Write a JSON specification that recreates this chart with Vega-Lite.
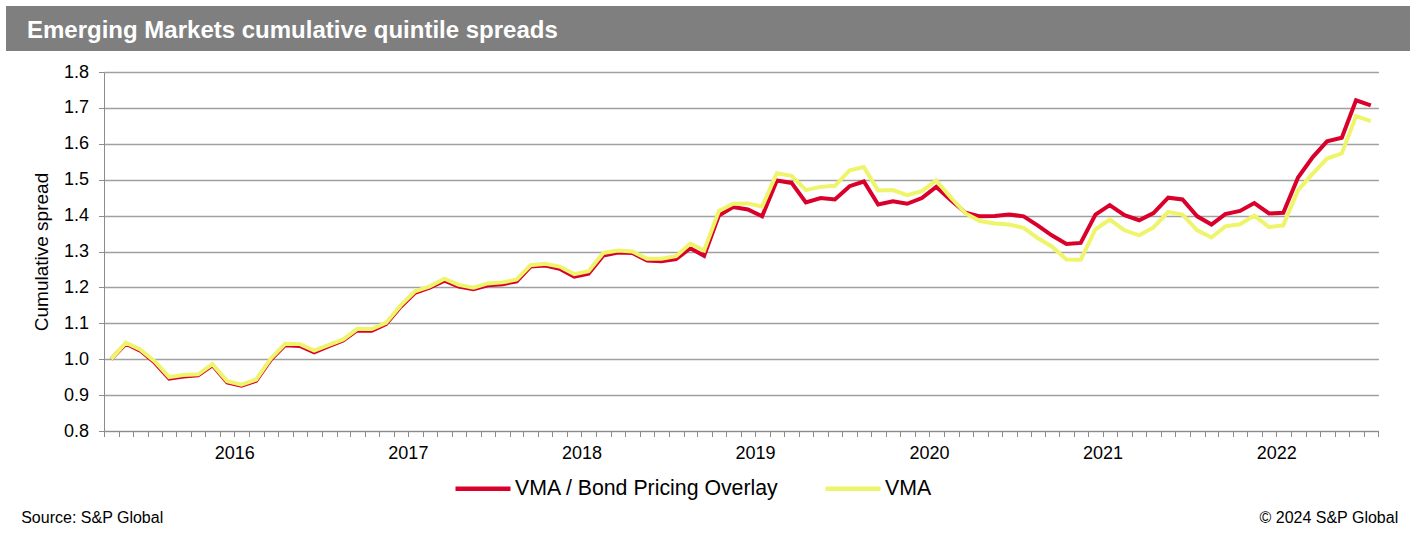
{
  "$schema": "https://vega.github.io/schema/vega-lite/v6.json",
  "padding": {"left": 6, "top": 6, "right": 0, "bottom": 0},
  "background": "white",
  "bounds": "flush",
  "spacing": 21,
  "config": {
    "view": {"stroke": null},
    "font": "Liberation Sans",
    "axis": {"labelFont": "Liberation Sans", "titleFont": "Liberation Sans", "labelColor": "#000000", "titleColor": "#000000"},
    "legend": {"labelFont": "Liberation Sans"},
    "title": {"font": "Liberation Sans"}
  },
  "vconcat": [
    {
      "width": 1404,
      "height": 45,
      "view": {"fill": "#7f7f7f", "stroke": null},
      "title": {
        "text": "Emerging Markets cumulative quintile spreads",
        "orient": "top",
        "anchor": "start",
        "frame": "group",
        "offset": -56,
        "dx": 21,
        "baseline": "alphabetic",
        "color": "#ffffff",
        "fontSize": 24,
        "fontWeight": "bold"
      },
      "data": {"values": [{"t": ""}]},
      "mark": {"type": "text"},
      "encoding": {"text": {"field": "t"}}
    },
    {
      "bounds": "flush",
      "spacing": 0,
      "hconcat": [
        {
          "width": 97.3,
          "height": 359,
          "data": {"values": []},
          "mark": "point",
          "encoding": {}
        },
        {
          "width": 1274.4,
          "height": 359,
          "data": {
            "values": [
              {"date": "2015-10-16", "overlay": 1.000, "vma": 1.000},
              {"date": "2015-11-16", "overlay": 1.043, "vma": 1.046},
              {"date": "2015-12-16", "overlay": 1.024, "vma": 1.027},
              {"date": "2016-01-16", "overlay": 0.990, "vma": 0.994},
              {"date": "2016-02-15", "overlay": 0.946, "vma": 0.950},
              {"date": "2016-03-16", "overlay": 0.952, "vma": 0.956},
              {"date": "2016-04-16", "overlay": 0.955, "vma": 0.958},
              {"date": "2016-05-16", "overlay": 0.983, "vma": 0.986},
              {"date": "2016-06-16", "overlay": 0.935, "vma": 0.939},
              {"date": "2016-07-16", "overlay": 0.926, "vma": 0.929},
              {"date": "2016-08-16", "overlay": 0.940, "vma": 0.943},
              {"date": "2016-09-16", "overlay": 0.999, "vma": 1.002},
              {"date": "2016-10-16", "overlay": 1.039, "vma": 1.043},
              {"date": "2016-11-16", "overlay": 1.037, "vma": 1.042},
              {"date": "2016-12-16", "overlay": 1.019, "vma": 1.024},
              {"date": "2017-01-16", "overlay": 1.036, "vma": 1.040},
              {"date": "2017-02-15", "overlay": 1.052, "vma": 1.055},
              {"date": "2017-03-16", "overlay": 1.080, "vma": 1.084},
              {"date": "2017-04-16", "overlay": 1.079, "vma": 1.084},
              {"date": "2017-05-16", "overlay": 1.098, "vma": 1.101},
              {"date": "2017-06-16", "overlay": 1.146, "vma": 1.150},
              {"date": "2017-07-16", "overlay": 1.185, "vma": 1.189},
              {"date": "2017-08-16", "overlay": 1.199, "vma": 1.203},
              {"date": "2017-09-16", "overlay": 1.219, "vma": 1.224},
              {"date": "2017-10-16", "overlay": 1.202, "vma": 1.207},
              {"date": "2017-11-16", "overlay": 1.195, "vma": 1.199},
              {"date": "2017-12-16", "overlay": 1.206, "vma": 1.211},
              {"date": "2018-01-16", "overlay": 1.209, "vma": 1.214},
              {"date": "2018-02-15", "overlay": 1.217, "vma": 1.222},
              {"date": "2018-03-16", "overlay": 1.258, "vma": 1.262},
              {"date": "2018-04-16", "overlay": 1.261, "vma": 1.266},
              {"date": "2018-05-16", "overlay": 1.252, "vma": 1.258},
              {"date": "2018-06-16", "overlay": 1.230, "vma": 1.237},
              {"date": "2018-07-16", "overlay": 1.238, "vma": 1.245},
              {"date": "2018-08-16", "overlay": 1.289, "vma": 1.296},
              {"date": "2018-09-16", "overlay": 1.297, "vma": 1.303},
              {"date": "2018-10-16", "overlay": 1.296, "vma": 1.300},
              {"date": "2018-11-16", "overlay": 1.275, "vma": 1.280},
              {"date": "2018-12-16", "overlay": 1.273, "vma": 1.280},
              {"date": "2019-01-16", "overlay": 1.279, "vma": 1.287},
              {"date": "2019-02-15", "overlay": 1.309, "vma": 1.322},
              {"date": "2019-03-16", "overlay": 1.288, "vma": 1.303},
              {"date": "2019-04-16", "overlay": 1.400, "vma": 1.413},
              {"date": "2019-05-16", "overlay": 1.424, "vma": 1.433},
              {"date": "2019-06-16", "overlay": 1.417, "vma": 1.434},
              {"date": "2019-07-16", "overlay": 1.398, "vma": 1.425},
              {"date": "2019-08-16", "overlay": 1.498, "vma": 1.518},
              {"date": "2019-09-16", "overlay": 1.491, "vma": 1.511},
              {"date": "2019-10-16", "overlay": 1.437, "vma": 1.471},
              {"date": "2019-11-16", "overlay": 1.449, "vma": 1.480},
              {"date": "2019-12-16", "overlay": 1.445, "vma": 1.483},
              {"date": "2020-01-16", "overlay": 1.482, "vma": 1.526},
              {"date": "2020-02-15", "overlay": 1.495, "vma": 1.535},
              {"date": "2020-03-16", "overlay": 1.431, "vma": 1.470},
              {"date": "2020-04-16", "overlay": 1.440, "vma": 1.471},
              {"date": "2020-05-16", "overlay": 1.433, "vma": 1.457},
              {"date": "2020-06-16", "overlay": 1.449, "vma": 1.468},
              {"date": "2020-07-16", "overlay": 1.480, "vma": 1.498},
              {"date": "2020-08-16", "overlay": 1.443, "vma": 1.450},
              {"date": "2020-09-16", "overlay": 1.408, "vma": 1.406},
              {"date": "2020-10-16", "overlay": 1.398, "vma": 1.385},
              {"date": "2020-11-16", "overlay": 1.399, "vma": 1.378},
              {"date": "2020-12-16", "overlay": 1.403, "vma": 1.375},
              {"date": "2021-01-16", "overlay": 1.398, "vma": 1.366},
              {"date": "2021-02-15", "overlay": 1.372, "vma": 1.337},
              {"date": "2021-03-16", "overlay": 1.345, "vma": 1.314},
              {"date": "2021-04-16", "overlay": 1.321, "vma": 1.278},
              {"date": "2021-05-16", "overlay": 1.324, "vma": 1.277},
              {"date": "2021-06-16", "overlay": 1.403, "vma": 1.362},
              {"date": "2021-07-16", "overlay": 1.429, "vma": 1.389},
              {"date": "2021-08-16", "overlay": 1.401, "vma": 1.359},
              {"date": "2021-09-16", "overlay": 1.387, "vma": 1.345},
              {"date": "2021-10-16", "overlay": 1.407, "vma": 1.367},
              {"date": "2021-11-16", "overlay": 1.450, "vma": 1.410},
              {"date": "2021-12-16", "overlay": 1.445, "vma": 1.403},
              {"date": "2022-01-16", "overlay": 1.398, "vma": 1.359},
              {"date": "2022-02-15", "overlay": 1.375, "vma": 1.339},
              {"date": "2022-03-16", "overlay": 1.404, "vma": 1.370},
              {"date": "2022-04-16", "overlay": 1.413, "vma": 1.376},
              {"date": "2022-05-16", "overlay": 1.435, "vma": 1.400},
              {"date": "2022-06-16", "overlay": 1.406, "vma": 1.368},
              {"date": "2022-07-16", "overlay": 1.408, "vma": 1.373},
              {"date": "2022-08-16", "overlay": 1.506, "vma": 1.471},
              {"date": "2022-09-16", "overlay": 1.563, "vma": 1.517},
              {"date": "2022-10-16", "overlay": 1.607, "vma": 1.559},
              {"date": "2022-11-16", "overlay": 1.617, "vma": 1.573},
              {"date": "2022-12-16", "overlay": 1.721, "vma": 1.677},
              {"date": "2023-01-16", "overlay": 1.707, "vma": 1.663}
            ]
          },
          "resolve": {"axis": {"y": "independent"}},
          "layer": [
            {
              "mark": {"type": "line", "strokeWidth": 4, "strokeJoin": "miter", "clip": false},
              "encoding": {
                "x": {
                  "field": "date",
                  "type": "temporal",
                  "scale": {
                    "type": "utc",
                    "nice": false,
                    "domain": [
                      {"year": 2015, "month": 10, "date": 1, "utc": true},
                      {"year": 2023, "month": 2, "date": 1, "utc": true}
                    ]
                  },
                  "axis": {
                    "tickCount": {"interval": "month", "step": 1},
                    "labelExpr": "utcmonth(datum.value) === 6 ? utcFormat(datum.value, '%Y') : ''",
                    "labelOverlap": false,
                    "labelFlush": false,
                    "labelBound": false,
                    "labelFontSize": 18,
                    "labelPadding": 8,
                    "labelAngle": 0,
                    "grid": false,
                    "ticks": true,
                    "tickSize": 5.5,
                    "tickColor": "#8c8c8c",
                    "tickWidth": 1,
                    "domainColor": "#8c8c8c",
                    "domainWidth": 1,
                    "title": "Source: S&P Global",
                    "titleX": -83.3,
                    "titleY": 91,
                    "titleAlign": "left",
                    "titleBaseline": "alphabetic",
                    "titleFontSize": 16,
                    "titleFontWeight": "normal"
                  }
                },
                "y": {
                  "field": "overlay",
                  "type": "quantitative",
                  "scale": {"domain": [0.8, 1.8], "nice": false, "zero": false},
                  "axis": {
                    "orient": "left",
                    "values": [0.8, 0.9, 1.0, 1.1, 1.2, 1.3, 1.4, 1.5, 1.6, 1.7, 1.8],
                    "format": ".1f",
                    "labelFontSize": 18,
                    "labelPadding": 10,
                    "tickSize": 5.5,
                    "tickColor": "#8c8c8c",
                    "domainColor": "#8c8c8c",
                    "grid": true,
                    "gridColor": "#a0a0a0",
                    "gridWidth": 1.3,
                    "title": "Cumulative spread",
                    "titleFontSize": 19,
                    "titleFontWeight": "normal",
                    "titlePadding": 12
                  }
                },
                "color": {
                  "datum": "overlay",
                  "type": "nominal",
                  "scale": {"domain": ["overlay", "vma"], "range": ["#d9002b", "#eef56b"]},
                  "legend": {
                    "orient": "none",
                    "legendX": 447,
                    "legendY": 452.5,
                    "direction": "horizontal",
                    "title": null,
                    "symbolType": "stroke",
                    "symbolStrokeWidth": 4.5,
                    "symbolSize": 3025,
                    "labelFontSize": 21.3,
                    "labelLimit": 0,
                    "labelColor": "#000000",
                    "labelOffset": 2,
                    "columnPadding": 37,
                    "labelExpr": "datum.value === 'overlay' ? 'VMA / Bond Pricing Overlay' : 'VMA'"
                  }
                }
              }
            },
            {
              "mark": {"type": "line", "strokeWidth": 4, "strokeJoin": "miter", "clip": false},
              "encoding": {
                "x": {"field": "date", "type": "temporal"},
                "y": {
                  "field": "vma",
                  "type": "quantitative",
                  "axis": {
                    "orient": "right",
                    "labels": false,
                    "ticks": false,
                    "domain": false,
                    "grid": false,
                    "title": "© 2024 S&P Global",
                    "titleAngle": 0,
                    "titleX": 19.3,
                    "titleY": 450,
                    "titleAlign": "right",
                    "titleBaseline": "alphabetic",
                    "titleFontSize": 16,
                    "titleFontWeight": "normal"
                  }
                },
                "color": {"datum": "vma", "type": "nominal"}
              }
            }
          ]
        }
      ]
    }
  ]
}
